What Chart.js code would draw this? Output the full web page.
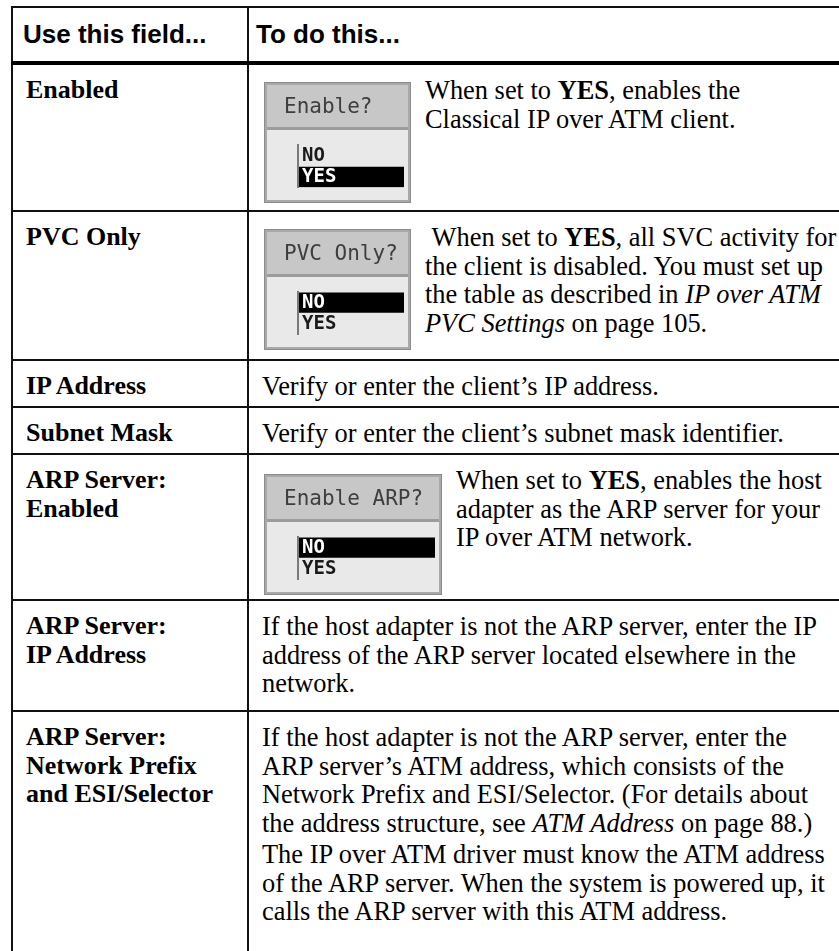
<!DOCTYPE html>
<html lang="en">
<head>
<meta charset="UTF-8">
<title>Classical IP over ATM client settings</title>
<script src="https://cdn.jsdelivr.net/npm/chart.js@4.4.0/dist/chart.umd.min.js"></script>
<style>
    html, body { margin: 0; padding: 0; background: #fff; width: 839px; height: 951px; overflow: hidden; }
    table { position: absolute; left: 11px; top: 6px; width: 900px; border-collapse: collapse; table-layout: fixed; color: #000; }
    th, td { border: 2px solid #111; vertical-align: top; text-align: left; }
    th { font: bold 26px "Liberation Sans", Arial, sans-serif; vertical-align: middle; padding: 0 0 0 10px; border-bottom: 4px solid #000; }
    th + th { padding-left: 7px; }
    td { font: 26.4px/28.5px "Liberation Serif", "Times New Roman", serif; padding: 11px 0 0 13px; }
    td.field { font-size: 26px; font-weight: bold; }
    p { margin: 0; white-space: nowrap; }
    p + p { margin-top: 3px; }
    .widget { float: left; margin: 6px 14px 0 2px; }
    .widget canvas { display: block; filter: blur(0.4px); }
</style>
</head>
<body>
<table>
    <colgroup><col style="width:236px"><col></colgroup>
    <thead><tr id="head"></tr></thead>
    <tbody id="rows"></tbody>
</table>

<script>
    // table content
    const headers = ['Use this field...', 'To do this...'];

    const fieldLabels = [
        ['Enabled'],
        ['PVC Only'],
        ['IP Address'],
        ['Subnet Mask'],
        ['ARP Server:', 'Enabled'],
        ['ARP Server:', 'IP Address'],
        ['ARP Server:', 'Network Prefix', 'and ESI/Selector']
    ];

    // each row: list of paragraphs, each paragraph a list of lines (**bold**, _italic_)
    const descriptions = [
        [['When set to **YES**, enables the', 'Classical IP over ATM client.']],
        [[' When set to **YES**, all SVC activity for', 'the client is disabled. You must set up',
          'the table as described in _IP over ATM_', '_PVC Settings_ on page 105.']],
        [['Verify or enter the client’s IP address.']],
        [['Verify or enter the client’s subnet mask identifier.']],
        [['When set to **YES**, enables the host', 'adapter as the ARP server for your', 'IP over ATM network.']],
        [['If the host adapter is not the ARP server, enter the IP',
          'address of the ARP server located elsewhere in the', 'network.']],
        [['If the host adapter is not the ARP server, enter the',
          'ARP server’s ATM address, which consists of the',
          'Network Prefix and ESI/Selector. (For details about',
          'the address structure, see _ATM Address_ on page 88.)'],
         ['The IP over ATM driver must know the ATM address',
          'of the ARP server. When the system is powered up, it',
          'calls the ARP server with this ATM address.']]
    ];

    // screenshot widgets (drawn as little bar charts)
    const widgetRows = [0, 1, 4];
    const widgetTitles = ['Enable?', 'PVC Only?', 'Enable ARP?'];
    const widgetOptions = ['NO', 'YES'];
    const widgetSelected = ['YES', 'NO', 'NO'];

    // layout
    const headerHeight = 56;
    const rowHeights = [148, 149, 47, 47, 146, 111, 260];
    const widgetWidths = [147, 147, 178];
    const widgetTops = [6, 6, 8];
    const widgetHeight = 121;

    function fmt(s) {
        return s.replace(/^ /, '\u00a0')
            .replace(/\*\*(.+?)\*\*/g, '<b>$1</b>')
            .replace(/_(.+?)_/g, '<i>$1</i>');
    }

    // frame + title bar of the dialog widget
    function widgetFrame(title) {
        return {
            id: 'widgetFrame',
            beforeDraw(chart) {
                const ctx = chart.ctx;
                const w = chart.width, h = chart.height;
                ctx.save();
                ctx.fillStyle = '#8c8c8c';
                ctx.fillRect(0, 0, w, h);
                ctx.fillStyle = '#a9a9a9';
                ctx.fillRect(1, 1, w - 2, h - 2);
                ctx.fillStyle = '#c7c7c7';
                ctx.fillRect(3, 3, w - 6, 42);
                ctx.fillStyle = '#9c9c9c';
                ctx.fillRect(3, 45, w - 6, 3);
                ctx.fillStyle = '#e9e9e9';
                ctx.fillRect(3, 48, w - 6, h - 51);
                ctx.fillStyle = '#3e3e3e';
                ctx.font = '21px "DejaVu Sans Mono", monospace';
                ctx.textBaseline = 'middle';
                ctx.fillText(title, 20, 26);
                ctx.restore();
            }
        };
    }

    function drawWidget(canvas, title, selected) {
        return new Chart(canvas, {
            type: 'bar',
            data: {
                labels: widgetOptions,
                datasets: [{
                    data: widgetOptions.map(o => o === selected ? 1 : 0),
                    backgroundColor: '#000',
                    borderWidth: 0,
                    barPercentage: 1,
                    categoryPercentage: 0.96
                }]
            },
            options: {
                indexAxis: 'y',
                responsive: false,
                animation: false,
                devicePixelRatio: 1,
                layout: { padding: { top: 63, bottom: 15, left: 26, right: 7 } },
                plugins: { legend: { display: false }, tooltip: { enabled: false } },
                scales: {
                    x: { display: false, min: 0, max: 1 },
                    y: {
                        grid: { display: false, drawTicks: false },
                        border: { display: true, color: '#7a7a7a', width: 2, z: 1 },
                        ticks: {
                            z: 2,
                            autoSkip: false,
                            mirror: true,
                            padding: 4,
                            font: { family: 'DejaVu Sans Mono', size: 19, weight: 'bold' },
                            color: c => widgetOptions[c.index] === selected ? '#fff' : '#1a1a1a'
                        }
                    }
                }
            },
            plugins: [widgetFrame(title)]
        });
    }

    const head = document.getElementById('head');
    head.style.height = headerHeight + 'px';
    headers.forEach(h => {
        const th = document.createElement('th');
        th.textContent = h;
        head.appendChild(th);
    });

    const tbody = document.getElementById('rows');
    fieldLabels.forEach((lines, i) => {
        const tr = document.createElement('tr');
        tr.style.height = rowHeights[i] + 'px';

        const field = document.createElement('td');
        field.className = 'field';
        field.innerHTML = lines.join('<br>');
        tr.appendChild(field);

        const desc = document.createElement('td');
        const w = widgetRows.indexOf(i);
        if (w >= 0) {
            const box = document.createElement('div');
            box.className = 'widget';
            box.style.marginTop = widgetTops[w] + 'px';
            const cv = document.createElement('canvas');
            cv.width = widgetWidths[w];
            cv.height = widgetHeight;
            box.appendChild(cv);
            desc.appendChild(box);
            drawWidget(cv, widgetTitles[w], widgetSelected[w]);
        }
        descriptions[i].forEach(par => {
            const p = document.createElement('p');
            p.innerHTML = par.map(fmt).join('<br>');
            desc.appendChild(p);
        });
        tr.appendChild(desc);
        tbody.appendChild(tr);
    });
</script>
</body>
</html>
